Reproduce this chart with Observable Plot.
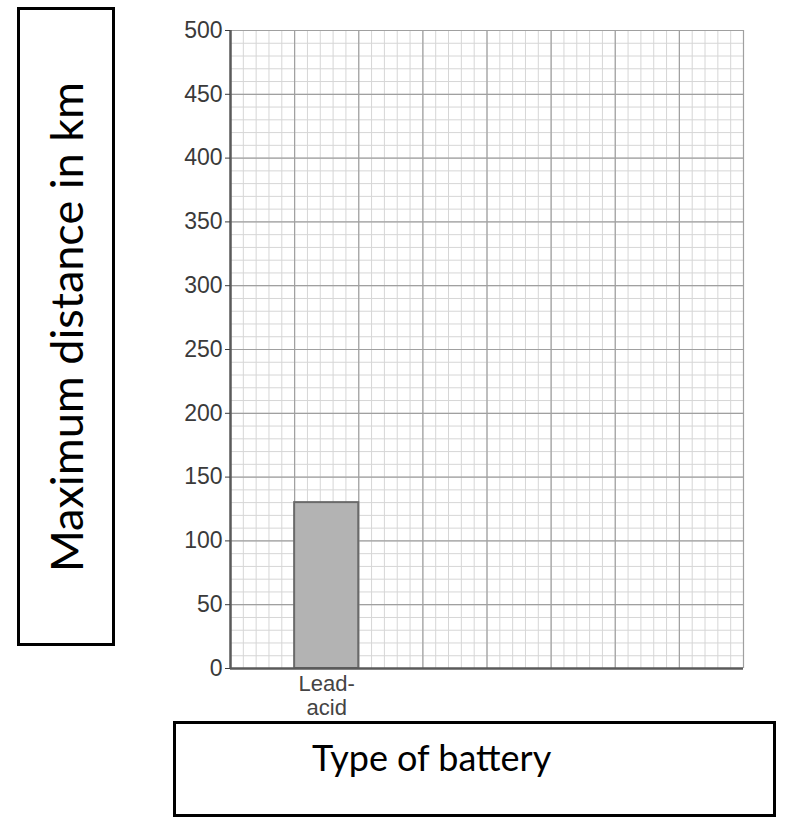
<!DOCTYPE html>
<html>
<head>
<meta charset="utf-8">
<script src="https://cdn.jsdelivr.net/npm/d3@7"></script>
<script src="https://cdn.jsdelivr.net/npm/@observablehq/plot@0.6"></script>
<style>
  html, body { margin: 0; padding: 0; background: #fff; }
  #wrap { position: relative; width: 792px; height: 817px; }
  #chart { position: absolute; left: 0; top: 0; }
  .box { position: absolute; box-sizing: border-box; border: 3px solid #000; background: transparent; font-family: Lato, "Open Sans", sans-serif; color: #000; }
  #ylab { left: 17px; top: 7px; width: 98px; height: 639px; }
  #ylab span { position: absolute; left: 50%; top: 50%; white-space: nowrap; font-size: 45px; transform: translate(-50%, -50%) rotate(-90deg); }
  #xlab { left: 173px; top: 721px; width: 603px; height: 96px; }
  #xlab span { position: absolute; left: 136px; top: 11px; white-space: nowrap; font-size: 36px; }
</style>
</head>
<body>
<div id="wrap">
  <div id="chart"></div>
  <div class="box" id="ylab"><span>Maximum distance in km</span></div>
  <div class="box" id="xlab"><span>Type of battery</span></div>
</div>
<script>
// Data
const categories = ["Lead-acid"];
const categoryLabels = ["Lead-\nacid"];
const distances = [130];
const yTicks = d3.range(0, 501, 50);
const yMinor = d3.range(0, 501, 10);
const columns = 8;            // major grid columns (2 per battery slot)
const minorPerColumn = 5;

const data = categories.map((c, i) => ({
  category: c,
  label: categoryLabels[i],
  value: distances[i],
  slot: i
}));

const xMinor = d3.range(0, columns * minorPerColumn + 1).map(i => i / minorPerColumn);
const xMajor = d3.range(0, columns + 1);

const plot = Plot.plot({
  width: 792,
  height: 720,
  marginTop: 30,
  marginLeft: 230,
  marginRight: 49,
  marginBottom: 52,
  style: { fontFamily: "'Liberation Sans', Arial, sans-serif", color: "#333", background: "#fff" },
  x: { domain: [0, columns], axis: null },
  y: { domain: [0, 500], axis: null },
  marks: [
    Plot.ruleX(xMinor, { stroke: "#d6d6d6", strokeWidth: 1 }),
    Plot.ruleY(yMinor, { stroke: "#d6d6d6", strokeWidth: 1 }),
    Plot.ruleX(xMajor, { stroke: "#a0a0a0", strokeWidth: 1.2 }),
    Plot.ruleY(yTicks, { stroke: "#a0a0a0", strokeWidth: 1.2 }),
    Plot.rectY(data, {
      x1: d => 2 * d.slot + 1,
      x2: d => 2 * d.slot + 2,
      y: "value",
      fill: "#b3b3b3",
      stroke: "#6a6a6a",
      strokeWidth: 2
    }),
    Plot.ruleX([0], { stroke: "#5a5a5a", strokeWidth: 2.5 }),
    Plot.ruleY([0], { stroke: "#5a5a5a", strokeWidth: 2.5 }),
    Plot.axisY({ ticks: yTicks, label: null, tickSize: 5, tickPadding: 3, fontSize: 23, color: "#3a3a3a" }),
    Plot.text(data, {
      x: d => 2 * d.slot + 1.5,
      y: 0,
      text: "label",
      lineAnchor: "top",
      dy: 5,
      lineHeight: 1.1,
      fontSize: 22,
      fill: "#444"
    })
  ]
});
document.getElementById("chart").appendChild(plot);
</script>
</body>
</html>
